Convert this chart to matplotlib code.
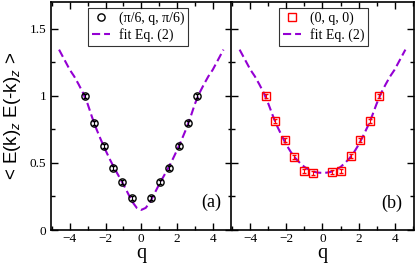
import matplotlib
matplotlib.use("Agg")
import matplotlib.pyplot as plt
from matplotlib.ticker import MultipleLocator

plt.rcParams['font.family'] = ['Liberation Serif', 'DejaVu Serif']
plt.rcParams['mathtext.fontset'] = 'custom'
plt.rcParams['mathtext.rm'] = 'Liberation Sans'
plt.rcParams['mathtext.it'] = 'Liberation Sans:italic'

# data
q_pts = [-3.14, -2.62, -2.09, -1.57, -1.05, -0.52, 0.52, 1.05, 1.57, 2.09, 2.62, 3.14]
a_vals = [1.0, 0.795, 0.63, 0.465, 0.355, 0.237, 0.237, 0.355, 0.465, 0.63, 0.795, 1.0]
b_vals = [1.0, 0.81, 0.67, 0.545, 0.44, 0.425, 0.43, 0.44, 0.55, 0.67, 0.81, 1.0]
err = 0.015

q_fit = [-4.6, -4.3, -4.0, -3.75, -3.5, -3.25, -3.0, -2.75, -2.5, -2.25, -2.0,
         -1.75, -1.5, -1.25, -1.0, -0.75, -0.5, -0.25, 0.0, 0.25, 0.5, 0.75,
         1.0, 1.25, 1.5, 1.75, 2.0, 2.25, 2.5, 2.75, 3.0, 3.25, 3.5, 3.75,
         4.0, 4.3, 4.6]
a_fit = [1.345, 1.27, 1.195, 1.145, 1.085, 1.02, 0.94, 0.84, 0.75, 0.67, 0.595,
         0.525, 0.46, 0.40, 0.34, 0.275, 0.21, 0.165, 0.150, 0.165, 0.21, 0.275,
         0.34, 0.40, 0.46, 0.525, 0.595, 0.67, 0.75, 0.84, 0.94, 1.02, 1.085, 1.145,
         1.195, 1.27, 1.345]
b_fit = [1.345, 1.27, 1.195, 1.145, 1.085, 1.02, 0.94, 0.85, 0.77, 0.70, 0.635,
         0.58, 0.535, 0.50, 0.47, 0.45, 0.435, 0.428, 0.426, 0.428, 0.435, 0.45,
         0.47, 0.50, 0.535, 0.58, 0.635, 0.70, 0.77, 0.85, 0.94, 1.02, 1.085, 1.145,
         1.195, 1.27, 1.345]
labels_a = ['(\u03c0/6, q, \u03c0/6)', 'fit Eq. (2)']
labels_b = ['(0, q, 0)', 'fit Eq. (2)']

purple = '#9400d3'

fig = plt.figure(figsize=(4.15, 2.65), dpi=100)
ax1 = fig.add_axes([0.1229, 0.132, 0.435, 0.8604])
ax2 = fig.add_axes([0.5578, 0.132, 0.4386, 0.8604])

e1 = ax1.errorbar(q_pts, a_vals, yerr=err, fmt='o', ms=5.2, mfc='none', mec='black',
                  mew=1.0, ecolor='black', elinewidth=0.8, capsize=1.2, zorder=3)
f1, = ax1.plot(q_fit, a_fit, color=purple, lw=1.5, dashes=(3.9, 1.9))

e2 = ax2.errorbar(q_pts, b_vals, yerr=err, fmt='s', ms=5.6, mfc='none', mec='red',
                  mew=1.0, ecolor='red', elinewidth=0.8, capsize=1.2, zorder=3)
f2, = ax2.plot(q_fit, b_fit, color=purple, lw=1.5, dashes=(3.9, 1.9))

for ax, lx, hs, lb in ((ax1, 0.205, [e1[0], f1], labels_a),
                       (ax2, 0.261, [e2[0], f2], labels_b)):
    ax.set_xlim(-5.05, 5.05)
    ax.set_ylim(0, 1.7)
    ax.xaxis.set_major_locator(MultipleLocator(2))
    ax.xaxis.set_minor_locator(MultipleLocator(1))
    ax.yaxis.set_major_locator(MultipleLocator(0.5))
    ax.yaxis.set_minor_locator(MultipleLocator(0.25))
    ax.tick_params(which='both', direction='in', top=True, right=True, labelsize=9.5)
    ax.tick_params(axis='x', pad=2.5)
    ax.tick_params(which='major', length=5, width=1)
    ax.tick_params(which='minor', length=3, width=1)
    for s in ax.spines.values():
        s.set_linewidth(1.2)
    ax.set_xlabel('q', fontsize=14.5, labelpad=-1)
    leg = ax.legend(hs, lb, loc='upper left', bbox_to_anchor=(lx, 0.975), fontsize=10,
                    frameon=True, fancybox=False, edgecolor='black',
                    borderaxespad=0, handlelength=1.3, handletextpad=0.6,
                    borderpad=0.3, labelspacing=0.2)
    leg.get_frame().set_linewidth(0.8)

ax1.yaxis.set_major_formatter(plt.FuncFormatter(lambda v, p: f'{v:g}'))
ax2.tick_params(labelleft=False)

ax1.set_ylabel(r'< E(k)$_z$ E(-k)$_z$ >', family='Liberation Sans', fontsize=13.5, labelpad=5)
ax1.text(3.93, 0.21, '(a)', fontsize=13, ha='center', va='center')
ax2.text(3.87, 0.20, '(b)', fontsize=13, ha='center', va='center')

fig.savefig('out.png', dpi=100)
